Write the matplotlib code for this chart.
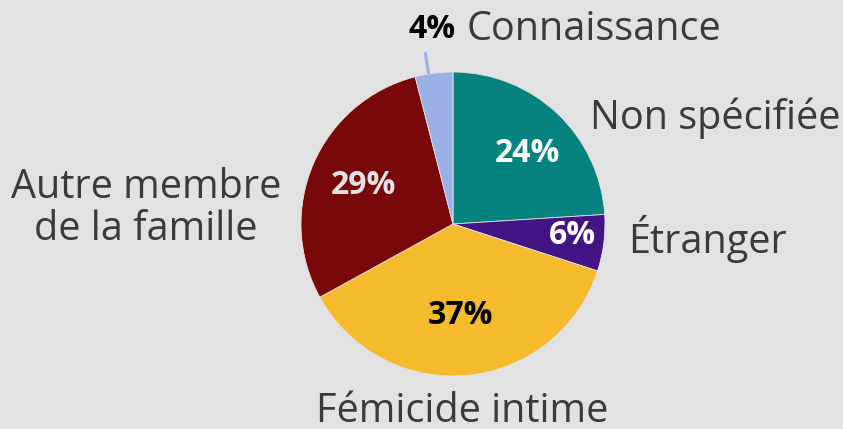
import numpy as np
import matplotlib
matplotlib.use("Agg")
import matplotlib.pyplot as plt

plt.rcParams['font.family'] = ['Open Sans', 'DejaVu Sans']

categories = ["Non spécifiée", "Étranger", "Fémicide intime", "Autre membre\nde la famille", "Connaissance"]
values = [24, 6, 37, 29, 4]
colors = ["#06837F", "#431483", "#F6BA2D", "#780809", "#9BB1E6"]
pct_colors = ["white", "white", "black", "#E2E2E2", "black"]

bg = "#E2E2E2"
fig = plt.figure(figsize=(8.43, 4.29), dpi=100, facecolor=bg)
ax = fig.add_axes([0, 0, 1, 1])
ax.set_facecolor(bg)

R = 152
wedges, _ = ax.pie(values, colors=colors, radius=R, startangle=90, counterclock=False,
                   wedgeprops=dict(edgecolor=bg, linewidth=0.6))
# pie() resets the limits, so set pixel-like limits afterwards
ax.set_xlim(-453, 390)
ax.set_ylim(-205, 224)
ax.set_aspect('equal')
ax.axis('off')

bold = dict(fontsize=23, fontweight='bold')

# percent labels inside (x, y offsets from center in pixels)
pct_pos = [(74, 71), (119, -12), (7, -91), (-90, 39)]
for i, (x, y) in enumerate(pct_pos):
    ax.text(x, y, f"{values[i]}%", ha='center', va='center', color=pct_colors[i], **bold)

# small slice: leader line + outside label
w = wedges[4]
mid = np.deg2rad((w.theta1 + w.theta2) / 2 + 2)
ax.plot([R * np.cos(mid), 174 * np.cos(mid)], [R * np.sin(mid), 174 * np.sin(mid)],
        color=colors[4], lw=2.2, solid_capstyle='butt')
ax.text(3, 194, f"{values[4]}%", ha='right', va='center', color='black', **bold)

lab = dict(fontsize=28.5, color="#3A3A3A")
ax.text(14, 194, categories[4], ha='left', va='center', **lab)
ax.text(137, 106, categories[0], ha='left', va='center', **lab)
ax.text(175, -15, categories[1], ha='left', va='center', **lab)
ax.text(9, -188, categories[2], ha='center', va='center', **lab)
ax.text(-307, 15, categories[3], ha='center', va='center', linespacing=1.05, **lab)

fig.savefig("out.png", dpi=100, facecolor=bg)
